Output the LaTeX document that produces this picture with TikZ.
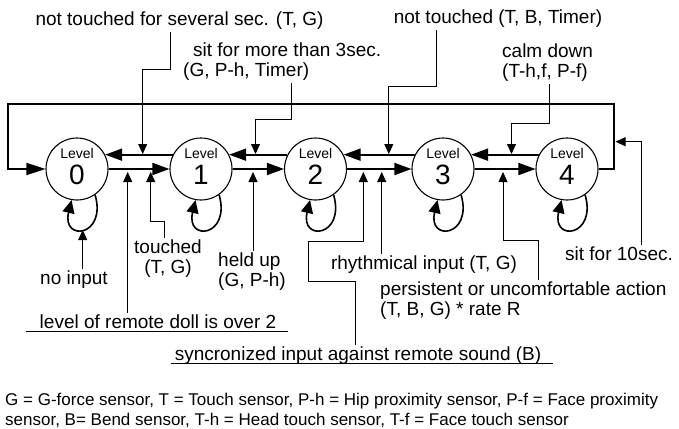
\documentclass[tikz,border=0pt]{standalone}
\usepackage{fontspec}
\setmainfont{Liberation Sans}
\usetikzlibrary{arrows.meta}
\begin{document}
\begin{tikzpicture}[x=1pt,y=-1pt,
  state/.style={circle,draw,line width=1.1pt,minimum size=62pt,inner sep=0pt},
  lvl/.style={anchor=base,inner sep=0pt,font=\fontsize{14}{14}\selectfont},
  num/.style={anchor=base,inner sep=0pt,font=\fontsize{28}{28}\selectfont},
  mainarr/.style={line width=1.8pt,-{Triangle[length=17pt,width=12pt]}},
  loopst/.style={line width=1.6pt,-{Triangle[length=13pt,width=12pt]}},
  conn/.style={line width=0.8pt,-{Triangle[length=10pt,width=9pt]}},
  lbl/.style={inner sep=2pt,font=\fontsize{19}{20}\selectfont},
  legend/.style={inner sep=0pt,font=\fontsize{17}{20}\selectfont,align=left,anchor=west},
]
\useasboundingbox (0,0) rectangle (679,428);

% states
\foreach \i/\x in {0/77,1/201,2/315.5,3/443,4/567} {
  \node[state] (c\i) at (\x,169) {};
  \node[lvl] (l\i) at (\x,158.3) {Level};
  \node[num] (n\i) at (\x,184.5) {\i};
  \draw[loopst] (c\i.-55) .. controls +(12,42) and +(-10,42) .. (c\i.-100);
}
\foreach \a/\b in {0/1,1/2,2/3,3/4} {
  \draw[mainarr] (c\a.east) -- (c\b.west);
  \draw[mainarr] (c\b.153) -- (c\a.27);
}
% feedback
\coordinate (fb1) at (614,169);
\coordinate (fb2) at (614,104);
\coordinate (fb3) at (8,104);
\coordinate (fb4) at (8,169);
\draw[line width=1.8pt,-{Triangle[length=19pt,width=12pt]}] (c4.east) -- (fb1) -- (fb2) -- (fb3) -- (fb4) -- (c0.west);

% top labels
\node[lbl] (t1) at (179.5,21) {not touched for several sec. (T, G)};
\node[lbl,align=left,anchor=west] (t2) at (181,62) {\hspace*{10pt}sit for more than 3sec.\\(G, P-h, Timer)};
\node[lbl] (t3) at (498,19) {not touched (T, B, Timer)};
\node[lbl,align=left,anchor=west] (t4) at (500,63) {calm down\\(T-h,f, P-f)};

\coordinate (s1) at (170.7,0); \coordinate (k1) at (142.7,69); \coordinate (d1) at (142.7,154);
\coordinate (s2) at (291.5,0); \coordinate (k2) at (255.5,119); \coordinate (d2) at (255.5,154);
\coordinate (s3) at (436.7,0); \coordinate (k3) at (388.8,86); \coordinate (d3) at (388.8,154);
\coordinate (s4) at (549,0); \coordinate (k4) at (511.5,123); \coordinate (d4) at (511.5,154);
\draw[conn] (t1.south -| s1) |- (k1) -- (d1);
\draw[conn] (t2.south -| s2) |- (k2) -- (d2);
\draw[conn] (t3.south -| s3) |- (k3) -- (d3);
\draw[conn] (t4.south -| s4) |- (k4) -- (d4);

% bottom labels
\node[lbl] (ni) at (74,280) {no input};
\node[lbl] (rd) at (158,321.7) {level of remote doll is over 2};
\node[lbl,align=center] (tc) at (168,259) {touched\\(T, G)};
\node[lbl,align=left,anchor=west] (hu) at (216,271.7) {held up\\(G, P-h)};
\node[lbl] (rh) at (424,265) {rhythmical input (T, G)};
\node[lbl] (sy) at (358,356) {syncronized input against remote sound (B)};
\node[lbl,align=left,anchor=west] (pe) at (378,301) {persistent or uncomfortable action\\(T, B, G) * rate R};
\node[lbl] (st) at (619,254) {sit for 10sec.};

\draw[line width=0.9pt] ([xshift=-12pt,yshift=-3pt]rd.base west) -- ([xshift=10pt,yshift=-3pt]rd.base east);
\draw[line width=0.9pt] ([xshift=-2pt,yshift=-3pt]sy.base west) -- ([xshift=10pt,yshift=-3pt]sy.base east);

\coordinate (u0) at (82.7,230);
\coordinate (u1) at (127.7,172);
\coordinate (s5) at (164.3,0); \coordinate (k5) at (150.7,221.7); \coordinate (u2) at (150.7,172);
\coordinate (u3) at (253,172);
\coordinate (u4) at (381.7,172);
\coordinate (s6) at (355,0); \coordinate (k6) at (308.3,281.7); \coordinate (k7) at (363.3,241.7); \coordinate (u5) at (363.3,172);
\coordinate (s7) at (538,0); \coordinate (k8) at (503,240); \coordinate (u6) at (503,172);
\coordinate (s8) at (641.7,0); \coordinate (d5) at (615.5,141.7);

\draw[conn] (ni.north -| u0) -- (u0);
\draw[conn] (rd.north -| u1) -- (u1);
\draw[conn] (tc.north -| s5) |- (k5) -- (u2);
\draw[conn] (hu.north -| u3) -- (u3);
\draw[conn] (rh.north -| u4) -- (u4);
\draw[conn] (sy.north -| s6) |- (k6) |- (k7) -- (u5);
\draw[conn] (pe.north -| s7) |- (k8) -- (u6);
\draw[conn] (st.north -| s8) |- (d5);

% legend
\node[legend] (leg) at (5,410) {G = G-force sensor, T = Touch sensor, P-h = Hip proximity sensor, P-f = Face proximity\\sensor, B= Bend sensor, T-h = Head touch sensor, T-f = Face touch sensor};
\end{tikzpicture}
\end{document}
